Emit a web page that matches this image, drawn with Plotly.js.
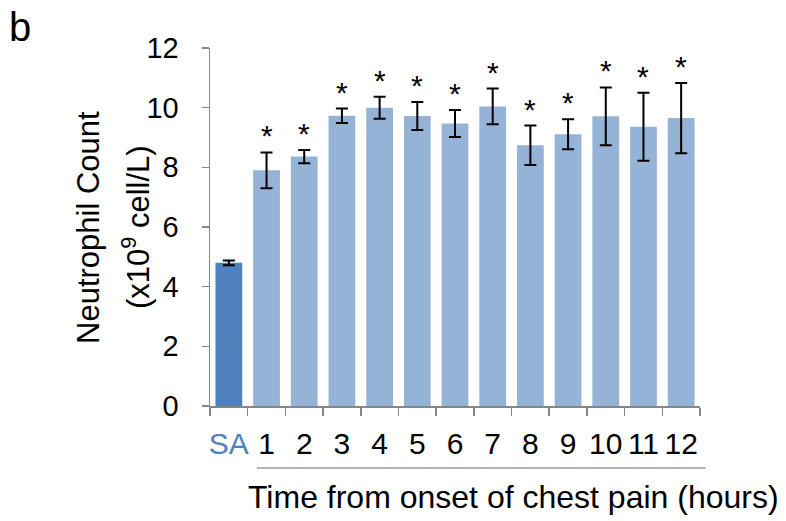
<!DOCTYPE html>
<html>
<head>
<meta charset="utf-8">
<script src="https://cdn.plot.ly/plotly-3.0.1.min.js"></script>
<style>html,body{margin:0;padding:0;background:#fff}#chart{width:786px;height:521px}</style>
</head>
<body>
<div id="chart"></div>
<script>
var categories = ['SA','1','2','3','4','5','6','7','8','9','10','11','12'];
var tickLabels = ['<span style="color:#4f81bd">SA</span>','1','2','3','4','5','6','7','8','9','10','11','12'];
var values = [4.80, 7.90, 8.36, 9.73, 10.00, 9.72, 9.47, 10.04, 8.74, 9.11, 9.71, 9.36, 9.65];
var errors = [0.08, 0.60, 0.22, 0.24, 0.37, 0.47, 0.45, 0.60, 0.66, 0.50, 0.97, 1.14, 1.18];
var stars = ['', '*', '*', '*', '*', '*', '*', '*', '*', '*', '*', '*', '*'];
var barColors = ['#4f81bd','#95b3d7','#95b3d7','#95b3d7','#95b3d7','#95b3d7','#95b3d7','#95b3d7','#95b3d7','#95b3d7','#95b3d7','#95b3d7','#95b3d7'];
var yTitleLines = ['Neutrophil Count', '(x10<sup>9</sup> cell/L)'];

var FONT = 'Liberation Sans, Arial, sans-serif';

var trace = {
  type: 'bar',
  x: categories,
  y: values,
  marker: {color: barColors},
  error_y: {type: 'data', array: errors, visible: true, color: '#000', thickness: 2, width: 6},
  hoverinfo: 'x+y'
};

var annotations = [];
for (var i = 0; i < categories.length; i++) {
  if (stars[i]) {
    annotations.push({
      x: categories[i], y: values[i] + errors[i], xref: 'x', yref: 'y',
      text: stars[i], showarrow: false, yanchor: 'bottom', yshift: -2,
      font: {family: FONT, size: 30, color: '#000'}
    });
  }
}
annotations.push({
  x: 0.6184, y: -0.254, xref: 'paper', yref: 'paper',
  text: 'Time from onset of chest pain (hours)', showarrow: false,
  xanchor: 'center', yanchor: 'middle',
  font: {family: FONT, size: 32, color: '#000'}
});
annotations.push({
  x: -0.388, y: 1.0587, xref: 'paper', yref: 'paper',
  text: 'b', showarrow: false, xanchor: 'center', yanchor: 'middle',
  font: {family: FONT, size: 40, color: '#000'}
});
var yTitleX = [-0.2490, -0.1510];
for (var j = 0; j < yTitleLines.length; j++) {
  annotations.push({
    x: yTitleX[j], y: 0.5, xref: 'paper', yref: 'paper',
    text: yTitleLines[j], showarrow: false, textangle: -90,
    xanchor: 'center', yanchor: 'middle',
    font: {family: FONT, size: 31, color: '#000'}
  });
}

var layout = {
  width: 786, height: 521,
  margin: {l: 210, r: 86, t: 48, b: 115},
  paper_bgcolor: '#fff', plot_bgcolor: '#fff',
  showlegend: false,
  bargap: 0.29,
  font: {family: FONT, color: '#000'},
  xaxis: {
    type: 'category',
    tickvals: categories, ticktext: tickLabels,
    tickson: 'boundaries', tickangle: 0,
    ticks: 'outside', ticklen: 8, tickwidth: 1.5, tickcolor: '#868686',
    showline: true, linecolor: '#868686', linewidth: 1.5,
    showgrid: false, zeroline: false,
    ticklabelstandoff: 10,
    tickfont: {family: FONT, size: 30, color: '#000'}
  },
  yaxis: {
    range: [0, 12], tickvals: [0, 2, 4, 6, 8, 10, 12],
    ticks: 'outside', ticklen: 7, tickwidth: 1.5, tickcolor: '#868686',
    showline: true, linecolor: '#868686', linewidth: 1.5,
    showgrid: false, zeroline: false,
    ticklabelstandoff: 17,
    tickfont: {family: FONT, size: 29, color: '#000'}
  },
  shapes: [{
    type: 'line', xref: 'paper', yref: 'paper',
    x0: 0.0959, x1: 1.0116, y0: -0.1732, y1: -0.1732,
    line: {color: '#999', width: 1.5}
  }],
  annotations: annotations
};

Plotly.newPlot('chart', [trace], layout, {displayModeBar: false, staticPlot: true});
</script>
</body>
</html>
